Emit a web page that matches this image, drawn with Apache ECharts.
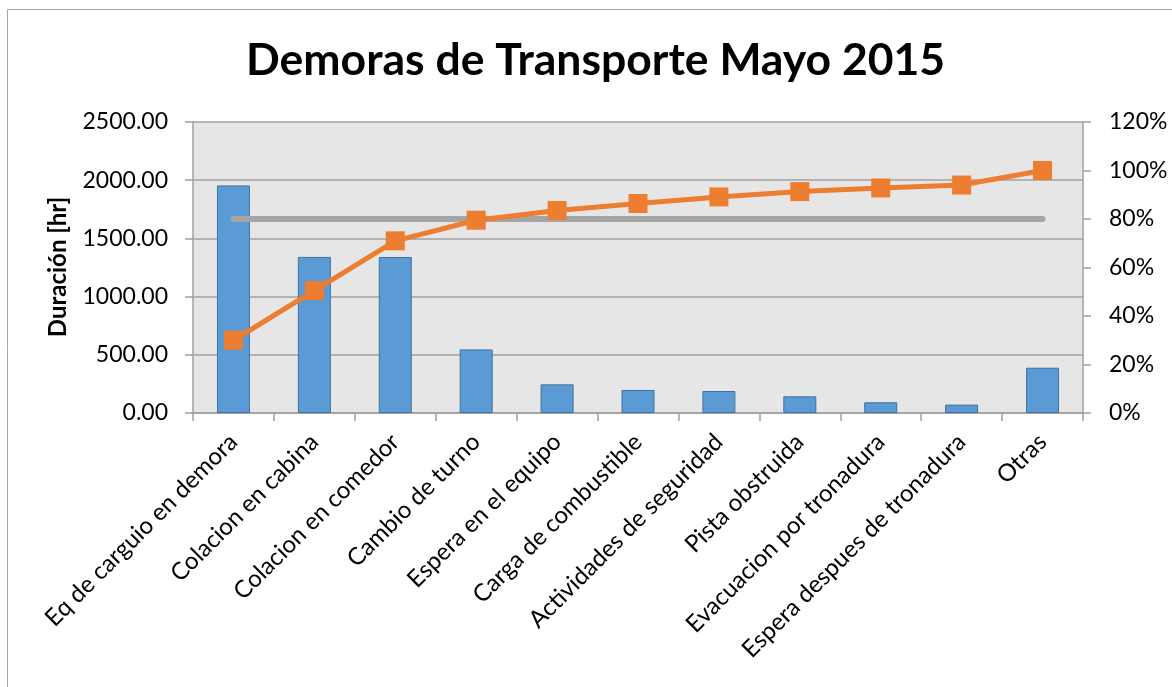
<!DOCTYPE html>
<html>
<head>
<meta charset="utf-8">
<script src="https://cdn.jsdelivr.net/npm/echarts@6/dist/echarts.min.js"></script>
<style>html,body{margin:0;padding:0;background:#fff;}#c{width:1172px;height:687px;}</style>
</head>
<body>
<div id="c"></div>
<script>
const categories = ["Eq de carguio en demora", "Colacion en cabina", "Colacion en comedor", "Cambio de turno", "Espera en el equipo", "Carga de combustible", "Actividades de seguridad", "Pista obstruida", "Evacuacion por tronadura", "Espera despues de tronadura", "Otras"];
const duration = [1955, 1341, 1340, 546, 246, 198, 189, 143, 92, 72, 389];
const cumulative = [0.30, 0.505, 0.71, 0.795, 0.835, 0.864, 0.891, 0.913, 0.928, 0.94, 1.0];
const threshold = [0.8, 0.8, 0.8, 0.8, 0.8, 0.8, 0.8, 0.8, 0.8, 0.8, 0.8];
const yAxisName = 'Duración [hr]';

const FONT = 'Lato';
const chart = echarts.init(document.getElementById('c'), null, {renderer: 'canvas'});
chart.setOption({
  animation: false,
  backgroundColor: '#ffffff',
  textStyle: {fontFamily: FONT},
  title: {
    text: 'Demoras de Transporte Mayo 2015',
    left: 241, top: 33,
    textStyle: {fontFamily: FONT, fontWeight: 'bold', fontSize: 44.5, color: '#000'}
  },
  graphic: [{
    type: 'rect', silent: true, z: -1,
    shape: {x: 7.5, y: 9.5, width: 1200, height: 700},
    style: {fill: null, stroke: '#a6a6a6', lineWidth: 1}
  }, {
    type: 'text', silent: true,
    x: 58, y: 267, rotation: Math.PI / 2,
    style: {text: yAxisName, fontFamily: FONT, fontWeight: 'bold', fontSize: 24, fill: '#000', align: 'center', verticalAlign: 'middle'}
  }],
  grid: {left: 193, right: 89, top: 122, bottom: 274, show: true, backgroundColor: '#e7e6e6', borderWidth: 0},
  xAxis: {
    type: 'category', data: categories, boundaryGap: true,
    axisLine: {show: true, lineStyle: {color: '#a0a0a0', width: 1.5}},
    axisTick: {show: true, length: 8, lineStyle: {color: '#a0a0a0', width: 1.5}},
    axisLabel: {rotate: 45, margin: 25, fontSize: 24, color: '#000', fontFamily: FONT, interval: 0},
    splitLine: {show: false}
  },
  yAxis: [{
    type: 'value', min: 0, max: 2500, interval: 500,
    axisLine: {show: true, lineStyle: {color: '#a0a0a0', width: 1.5}},
    axisTick: {show: true, length: 8, inside: false, lineStyle: {color: '#a0a0a0', width: 1.5}},
    axisLabel: {margin: 25, fontSize: 23, color: '#000', fontFamily: FONT, formatter: v => v.toFixed(2)},
    splitLine: {show: true, lineStyle: {color: '#a0a0a0', width: 1.5}}
  }, {
    type: 'value', min: 0, max: 1.2, interval: 0.2, position: 'right',
    axisLine: {show: true, lineStyle: {color: '#a0a0a0', width: 1.5}},
    axisTick: {show: true, length: 8, lineStyle: {color: '#a0a0a0', width: 1.5}},
    axisLabel: {margin: 26, fontSize: 23, color: '#000', fontFamily: FONT, formatter: v => Math.round(v * 100) + '%'},
    splitLine: {show: false}
  }],
  series: [{
    type: 'bar', data: duration, barWidth: 33,
    itemStyle: {color: '#5b9bd5', borderColor: '#41719c', borderWidth: 1}
  }, {
    type: 'line', yAxisIndex: 1, data: threshold, symbol: 'none',
    lineStyle: {color: '#a5a5a5', width: 6, cap: 'round'}
  }, {
    type: 'line', yAxisIndex: 1, data: cumulative, symbol: 'rect', symbolSize: 19,
    itemStyle: {color: '#ed7d31'},
    lineStyle: {color: '#ed7d31', width: 5}
  }]
});
</script>
</body>
</html>
